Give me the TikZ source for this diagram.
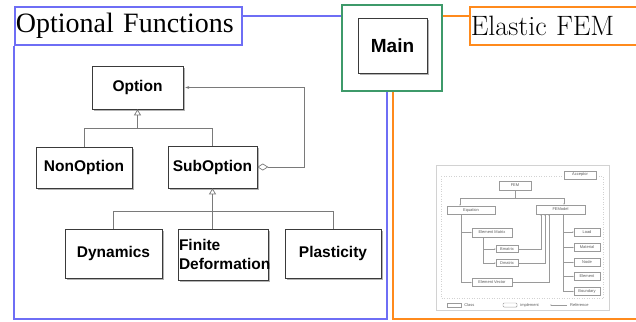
\documentclass[tikz,border=0pt]{standalone}
\usepackage{fontspec}
\newfontfamily\umlfont{Liberation Sans}
\newfontfamily\titlefont{Liberation Serif}
\usetikzlibrary{arrows.meta, positioning, calc, shadows}
\definecolor{opt-blue}{HTML}{6E6EF5}
\definecolor{fem-orange}{HTML}{FF8A1C}
\definecolor{main-green}{HTML}{3E9A6A}
\definecolor{uml-border}{HTML}{3A3A3A}
\definecolor{uml-line}{HTML}{7A7A7A}
\definecolor{thumb-frame}{HTML}{D2D2D2}
\definecolor{thumb-line}{HTML}{9A9A9A}
\definecolor{thumb-text}{HTML}{5A5A5A}
\tikzset{
  title-box/.style={draw, line width=1.8pt, minimum height=38pt, inner sep=1pt,
    anchor=west, align=left},
  frame-line/.style={line width=1.8pt},
  uml-box/.style={
    draw=uml-border, fill=white, line width=0.6pt, inner sep=1pt,
    font=\umlfont\bfseries\fontsize{15.5}{19}\selectfont,
    drop shadow={shadow xshift=1.5pt, shadow yshift=-2pt, opacity=0.6}
  },
  uml-edge/.style={draw=uml-line, line width=0.7pt},
  uml-inherit/.style={uml-edge, -{Triangle[open, length=6pt, width=7pt]}},
  uml-aggr/.style={uml-edge, {Diamond[open, length=11pt, width=7pt]}-{Stealth[length=4pt, width=3pt]},
    shorten >=2pt},
  thumb-box/.style={
    draw=thumb-line, fill=white, line width=0.4pt, inner sep=0pt,
    font=\umlfont\fontsize{4}{4.5}\selectfont, text=thumb-text,
    drop shadow={shadow xshift=0.4pt, shadow yshift=-0.5pt, opacity=0.3}
  },
  thumb-text/.style={inner sep=0pt, font=\umlfont\fontsize{4}{4.5}\selectfont, text=thumb-text},
  thumb-edge/.style={draw=thumb-line, line width=0.4pt, -{Stealth[length=1.5pt, width=1.2pt]}}
}
\begin{document}
\begin{tikzpicture}[x=1pt, y=-1pt]
  \useasboundingbox (0,0) rectangle (636,321);
  \clip (0,0) rectangle (636,321);

  % Rahmen und Titel
  \node[title-box, draw=opt-blue, text width=225pt, font=\titlefont\fontsize{28}{32}\selectfont]
    (optTitle) at (14,26) {Optional Functions};
  \node[draw=main-green, line width=1.8pt, minimum width=100pt, minimum height=86pt]
    (mainFrame) at (392,48) {};
  \node[uml-box, font=\umlfont\bfseries\fontsize{19}{22}\selectfont, minimum width=69pt, minimum height=55pt]
    (main) at (392.5,45.5) {Main};
  \node[title-box, draw=fem-orange, text width=180pt, font=\fontsize{28}{32}\selectfont]
    (femTitle) at (469,26) {Elastic FEM};

  \draw[frame-line, opt-blue] (optTitle.east |- 0,16) -- (mainFrame.west |- 0,16);
  \draw[frame-line, opt-blue] (optTitle.south west) -- (14,319) -- (387,319) -- (387,0 |- mainFrame.south);
  \draw[frame-line, fem-orange] (mainFrame.east |- 0,16) -- (femTitle.west |- 0,16);
  \draw[frame-line, fem-orange] (393,0 |- mainFrame.south) -- (393,319) -- (640,319);

  % Klassen
  \node[uml-box, minimum width=91pt, minimum height=43pt] (option) at (137.5,87.5) {Option};
  \node[uml-box, minimum width=96pt, minimum height=41pt] (nonOpt) at (84,167.5) {NonOption};
  \node[uml-box, minimum width=89pt, minimum height=42pt] (subOpt) at (212.5,167) {SubOption};
  \node[uml-box, minimum width=97pt, minimum height=49pt] (dynamics) at (113.5,253.5) {Dynamics};
  \node[uml-box, text width=88pt, align=left, minimum height=51pt]
    (finDef) at (223,254.5) {Finite\\Deformation\par\vspace*{24pt}};
  \node[uml-box, minimum width=96pt, minimum height=49pt] (plasticity) at (333,253.5) {Plasticity};

  \draw[uml-edge] (nonOpt.north) |- (subOpt.north |- 0,128) -- (subOpt.north);
  \draw[uml-inherit] (option.south |- 0,128) -- (option.south);
  \draw[uml-edge] (dynamics.north) |- (plasticity.north |- 0,211) -- (plasticity.north);
  \draw[uml-inherit] (finDef.north -| subOpt.south) -- (subOpt.south);
  \draw[uml-aggr] (subOpt.east) -- ++(47,0) |- (option.east);

  % eingebettetes Klassendiagramm
  \draw[thumb-frame, line width=0.6pt] (436,165) rectangle (609,310);
  \draw[thumb-frame, line width=0.5pt, dotted] (441,176) rectangle (603,298);

  \node[thumb-box, minimum width=32pt, minimum height=9pt] (fem) at (515,185.5) {FEM};
  \node[thumb-box, minimum width=32pt, minimum height=8pt] (acceptor) at (580,175) {Acceptor};
  \node[thumb-box, minimum width=48pt, minimum height=8pt] (equation) at (471,210) {Equation};
  \node[thumb-box, minimum width=49pt, minimum height=9pt] (femodel) at (560.5,209.5) {FEModel};
  \node[thumb-box, minimum width=40pt, minimum height=9pt] (elemMatrix) at (492,232.5) {Element Matrix};
  \node[thumb-box, minimum width=22pt, minimum height=7pt] (bmatrix) at (507,249) {Bmatrix};
  \node[thumb-box, minimum width=22pt, minimum height=7pt] (dmatrix) at (507,263) {Dmatrix};
  \node[thumb-box, minimum width=40pt, minimum height=8pt] (elemVector) at (492,282.5) {Element Vector};
  \node[thumb-box, minimum width=26pt, minimum height=8pt] (load) at (587,232) {Load};
  \node[thumb-box, minimum width=26pt, minimum height=8pt] (material) at (587,247.5) {Material};
  \node[thumb-box, minimum width=26pt, minimum height=8pt] (node) at (587,262.5) {Node};
  \node[thumb-box, minimum width=26pt, minimum height=8pt] (element) at (587,276.5) {Element};
  \node[thumb-box, minimum width=26pt, minimum height=8pt] (boundary) at (587,291.5) {Boundary};

  \coordinate (femSplit) at (515,198);
  \draw[thumb-edge] (fem.south) -- (femSplit) -| (equation.north -| 460,0);
  \draw[thumb-edge] (femSplit) -| (femodel.north -| 564,0);
  \draw[thumb-edge] (equation.south -| 461,0) |- (elemMatrix.west);
  \draw[thumb-edge] (equation.south -| 461,0) |- (elemVector.west);
  \draw[thumb-edge] (elemMatrix.south -| 483,0) |- (bmatrix.west);
  \draw[thumb-edge] (elemMatrix.south -| 483,0) |- (dmatrix.west);
  \draw[thumb-edge] (bmatrix.east) -| (femodel.south -| 541,0);
  \draw[thumb-edge] (dmatrix.east) -| (femodel.south -| 545,0);
  \draw[thumb-edge] (elemVector.east) -| (femodel.south -| 549,0);
  \draw[thumb-edge] (femodel.south -| 563,0) |- (load.west);
  \draw[thumb-edge] (femodel.south -| 563,0) |- (material.west);
  \draw[thumb-edge] (femodel.south -| 563,0) |- (node.west);
  \draw[thumb-edge] (femodel.south -| 563,0) |- (element.west);
  \draw[thumb-edge] (femodel.south -| 563,0) |- (boundary.west);

  % Legende
  \node[thumb-box, minimum width=14pt, minimum height=4pt] (legClass) at (454,305) {};
  \node[thumb-text, right=3pt of legClass] (legClassText) {Class};
  \node[thumb-box, rounded corners=1pt, minimum width=14pt, minimum height=4pt] (legImpl) at (510,305) {};
  \node[thumb-text, right=3pt of legImpl] (legImplText) {implement};
  \coordinate (legRefA) at (550,305);
  \coordinate (legRefB) at (567,305);
  \draw[thumb-edge] (legRefB) -- (legRefA);
  \node[thumb-text, right=3pt of legRefB] (legRefText) {Reference};
\end{tikzpicture}
\end{document}
